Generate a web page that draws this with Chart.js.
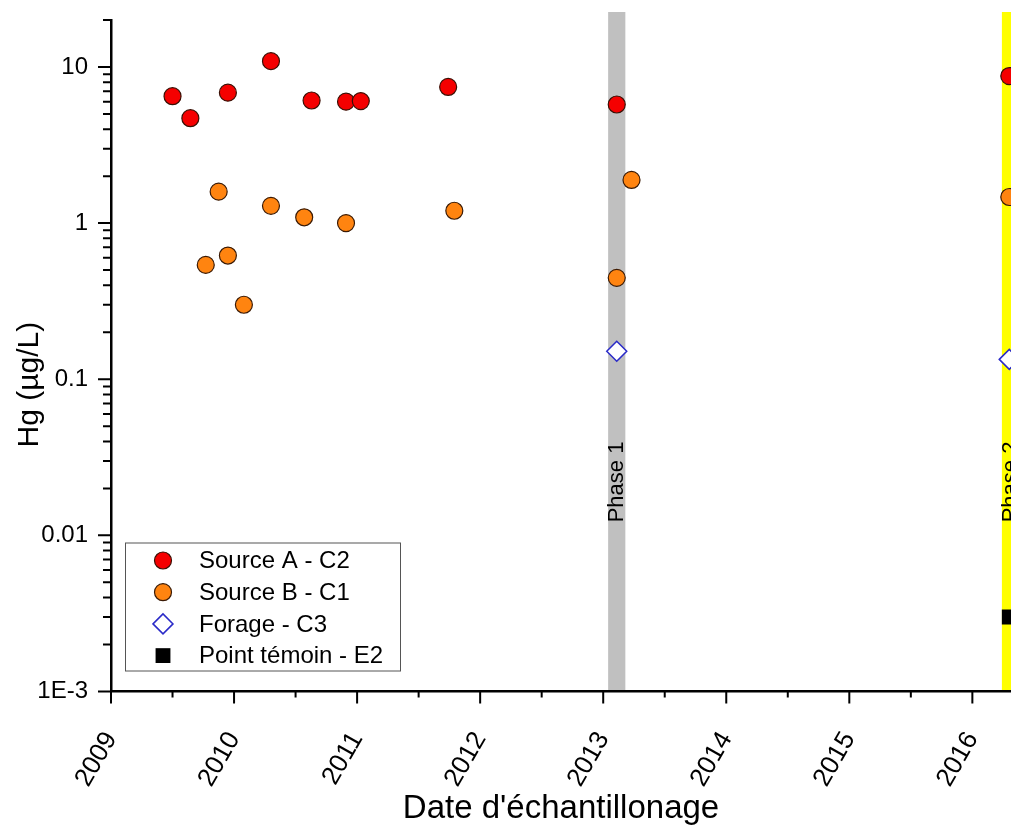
<!DOCTYPE html>
<html>
<head>
<meta charset="utf-8">
<script src="https://cdn.jsdelivr.net/npm/chart.js@4"></script>
<style>
  html, body { margin: 0; padding: 0; background: #fff; overflow: hidden; }
  #wrap { width: 1011px; height: 829px; }
</style>
</head>
<body>
<div id="wrap"><canvas id="hgChart"></canvas></div>
<script>
// dates en annees decimales, Hg en µg/L
var dateA = [2009.50, 2009.645, 2009.95, 2010.30, 2010.63, 2010.91, 2011.03, 2011.74, 2013.11, 2016.30];
var hgA   = [6.5, 4.7, 6.85, 10.9, 6.1, 6.0, 6.05, 7.45, 5.75, 8.75];

var dateB = [2009.77, 2009.875, 2009.95, 2010.08, 2010.30, 2010.57, 2010.91, 2011.79, 2013.11, 2013.23, 2016.30];
var hgB   = [0.54, 1.59, 0.62, 0.30, 1.29, 1.09, 1.0, 1.20, 0.446, 1.89, 1.47];

var dateForage = [2013.11, 2016.30];
var hgForage   = [0.151, 0.134];

var dateTemoin = [2016.30];
var hgTemoin   = [0.003];

var yearTicks = [2009, 2010, 2011, 2012, 2013, 2014, 2015, 2016];
var logTicks  = [0.001, 0.01, 0.1, 1, 10];
var logLabels = ['1E-3', '0.01', '0.1', '1', '10'];

var phaseNames = ['Phase 1', 'Phase 2'];
var phaseStart = [2013.04, 2016.24];
var phaseEnd   = [2013.18, 2016.38];

var xMin = 2009, xMax = 2016.314;
var yMin = 0.001, yMax = 20;

function pts(xs, ys) {
  return xs.map(function (x, i) { return { x: x, y: ys[i] }; });
}

function noPadding(s) {
  s.paddingTop = 0; s.paddingBottom = 0; s.paddingLeft = 0; s.paddingRight = 0;
}

Chart.defaults.font.family = "'Liberation Sans', Arial, sans-serif";
Chart.defaults.color = '#000';

// bandes des phases (dessinees avant les axes)
var bandes = {
  id: 'bandes',
  beforeDraw: function (chart) {
    var ctx = chart.ctx, a = chart.chartArea, xs = chart.scales.x;
    ctx.save();
    ctx.fillStyle = '#fff';
    ctx.fillRect(0, 0, chart.width, chart.height);
    var couleurs = ['#c0c0c0', '#ffff00'];
    for (var i = 0; i < phaseNames.length; i++) {
      var x1 = xs.getPixelForValue(phaseStart[i]);
      var x2 = xs.getPixelForValue(phaseEnd[i]);
      ctx.fillStyle = couleurs[i];
      ctx.fillRect(x1, a.top - 8, x2 - x1, a.bottom - a.top + 8);
      ctx.save();
      ctx.translate((x1 + x2) / 2, a.top + (a.bottom - a.top) * 0.688);
      ctx.rotate(-Math.PI / 2);
      ctx.fillStyle = '#000';
      ctx.font = "22px 'Liberation Sans', Arial, sans-serif";
      ctx.textAlign = 'center';
      ctx.textBaseline = 'middle';
      ctx.fillText(phaseNames[i], 0, 0);
      ctx.restore();
    }
    ctx.restore();
  }
};

// graduations majeures / mineures vers l'exterieur + titre Y + legende
var habillage = {
  id: 'habillage',
  afterDraw: function (chart) {
    var ctx = chart.ctx, a = chart.chartArea;
    var xs = chart.scales.x, ys = chart.scales.y;
    ctx.save();
    ctx.strokeStyle = '#000';
    ctx.lineWidth = 2;
    ctx.beginPath();
    xs.ticks.forEach(function (t) {
      var px = xs.getPixelForValue(t.value);
      var len = Number.isInteger(t.value) ? 12 : 6;
      ctx.moveTo(px, a.bottom);
      ctx.lineTo(px, a.bottom + len);
    });
    ys.ticks.forEach(function (t) {
      var py = ys.getPixelForValue(t.value);
      var len = logTicks.indexOf(t.value) >= 0 ? 13 : 8;
      ctx.moveTo(a.left, py);
      ctx.lineTo(a.left - len, py);
    });
    ctx.stroke();

    // titre axe Y
    ctx.save();
    ctx.translate(30, a.top + (a.bottom - a.top) * 0.543);
    ctx.rotate(-Math.PI / 2);
    ctx.font = "30px 'Liberation Sans', Arial, sans-serif";
    ctx.fillStyle = '#000';
    ctx.textAlign = 'center';
    ctx.textBaseline = 'middle';
    ctx.fillText('Hg (µg/L)', 0, 0);
    ctx.restore();

    // legende
    var lx = a.left + 14, ly = a.bottom - 149, lw = 275, lh = 128;
    ctx.fillStyle = '#fff';
    ctx.fillRect(lx, ly, lw, lh);
    ctx.strokeStyle = '#555';
    ctx.lineWidth = 1;
    ctx.strokeRect(lx + 0.5, ly + 0.5, lw, lh);
    ctx.font = "24px 'Liberation Sans', Arial, sans-serif";
    ctx.textBaseline = 'middle';
    ctx.textAlign = 'left';
    chart.data.datasets.forEach(function (ds, i) {
      var cy = ly + 18 + i * 31.7;
      ctx.fillStyle = ds.backgroundColor;
      ctx.strokeStyle = ds.borderColor;
      ctx.lineWidth = ds.borderWidth;
      Chart.helpers.drawPoint(ctx, {
        pointStyle: ds.pointStyle, radius: ds.pointRadius,
        rotation: 0, borderWidth: ds.borderWidth
      }, lx + 38, cy);
      ctx.fillStyle = '#000';
      ctx.fillText(ds.label, lx + 74, cy + 1);
    });
    ctx.restore();
  }
};

var ctx = document.getElementById('hgChart').getContext('2d');
var hgChart = new Chart(ctx, {
  type: 'scatter',
  data: {
    datasets: [{
      label: 'Source A - C2',
      data: pts(dateA, hgA),
      pointStyle: 'circle',
      pointRadius: 8.5,
      backgroundColor: '#f50000',
      borderColor: '#3a1005',
      borderWidth: 1.2
    }, {
      label: 'Source B - C1',
      data: pts(dateB, hgB),
      pointStyle: 'circle',
      pointRadius: 8.5,
      backgroundColor: '#ff8410',
      borderColor: '#3a1a05',
      borderWidth: 1.2
    }, {
      label: 'Forage - C3',
      data: pts(dateForage, hgForage),
      pointStyle: 'rectRot',
      pointRadius: 10,
      backgroundColor: '#ffffff',
      borderColor: '#2a2ac8',
      borderWidth: 1.5
    }, {
      label: 'Point témoin - E2',
      data: pts(dateTemoin, hgTemoin),
      pointStyle: 'rect',
      pointRadius: 10.5,
      backgroundColor: '#000000',
      borderColor: '#000000',
      borderWidth: 0
    }]
  },
  options: {
    responsive: true,
    maintainAspectRatio: false,
    animation: false,
    layout: { autoPadding: false, padding: { top: 20, right: 0, left: 0, bottom: 0 } },
    plugins: {
      legend: { display: false },
      tooltip: { enabled: false }
    },
    scales: {
      x: {
        type: 'linear',
        min: xMin,
        max: xMax,
        afterFit: function (s) { s.height = 137.5; noPadding(s); },
        afterBuildTicks: function (s) {
          var t = [];
          yearTicks.forEach(function (y) {
            t.push({ value: y });
            if (y + 0.5 <= xMax) t.push({ value: y + 0.5 });
          });
          s.ticks = t;
        },
        // tickLength sert seulement a decaler les etiquettes
        grid: { display: false, drawTicks: true, tickLength: 35 },
        border: { display: true, color: '#000', width: 2.5 },
        ticks: {
          autoSkip: false,
          minRotation: 60,
          maxRotation: 60,
          padding: 0,
          font: { size: 26 },
          callback: function (v) { return yearTicks.indexOf(v) >= 0 ? String(v) : ''; }
        },
        title: {
          display: true,
          text: "Date d'échantillonage",
          font: { size: 33 },
          padding: { top: 0, bottom: 0 }
        }
      },
      y: {
        type: 'logarithmic',
        min: yMin,
        max: yMax,
        afterFit: function (s) { s.width = 111; noPadding(s); },
        afterBuildTicks: function (s) {
          var t = [];
          logTicks.forEach(function (d) {
            for (var m = 1; m <= 9; m++) {
              var v = m === 1 ? d : parseFloat((d * m).toPrecision(3));
              if (v <= yMax) t.push({ value: v });
            }
          });
          s.ticks = t;
        },
        grid: { display: false, drawTicks: false },
        border: { display: true, color: '#000', width: 2.5 },
        ticks: {
          autoSkip: false,
          padding: 23,
          font: { size: 24 },
          callback: function (v) {
            var i = logTicks.indexOf(v);
            return i >= 0 ? logLabels[i] : '';
          }
        }
      }
    }
  },
  plugins: [bandes, habillage]
});
</script>
</body>
</html>
